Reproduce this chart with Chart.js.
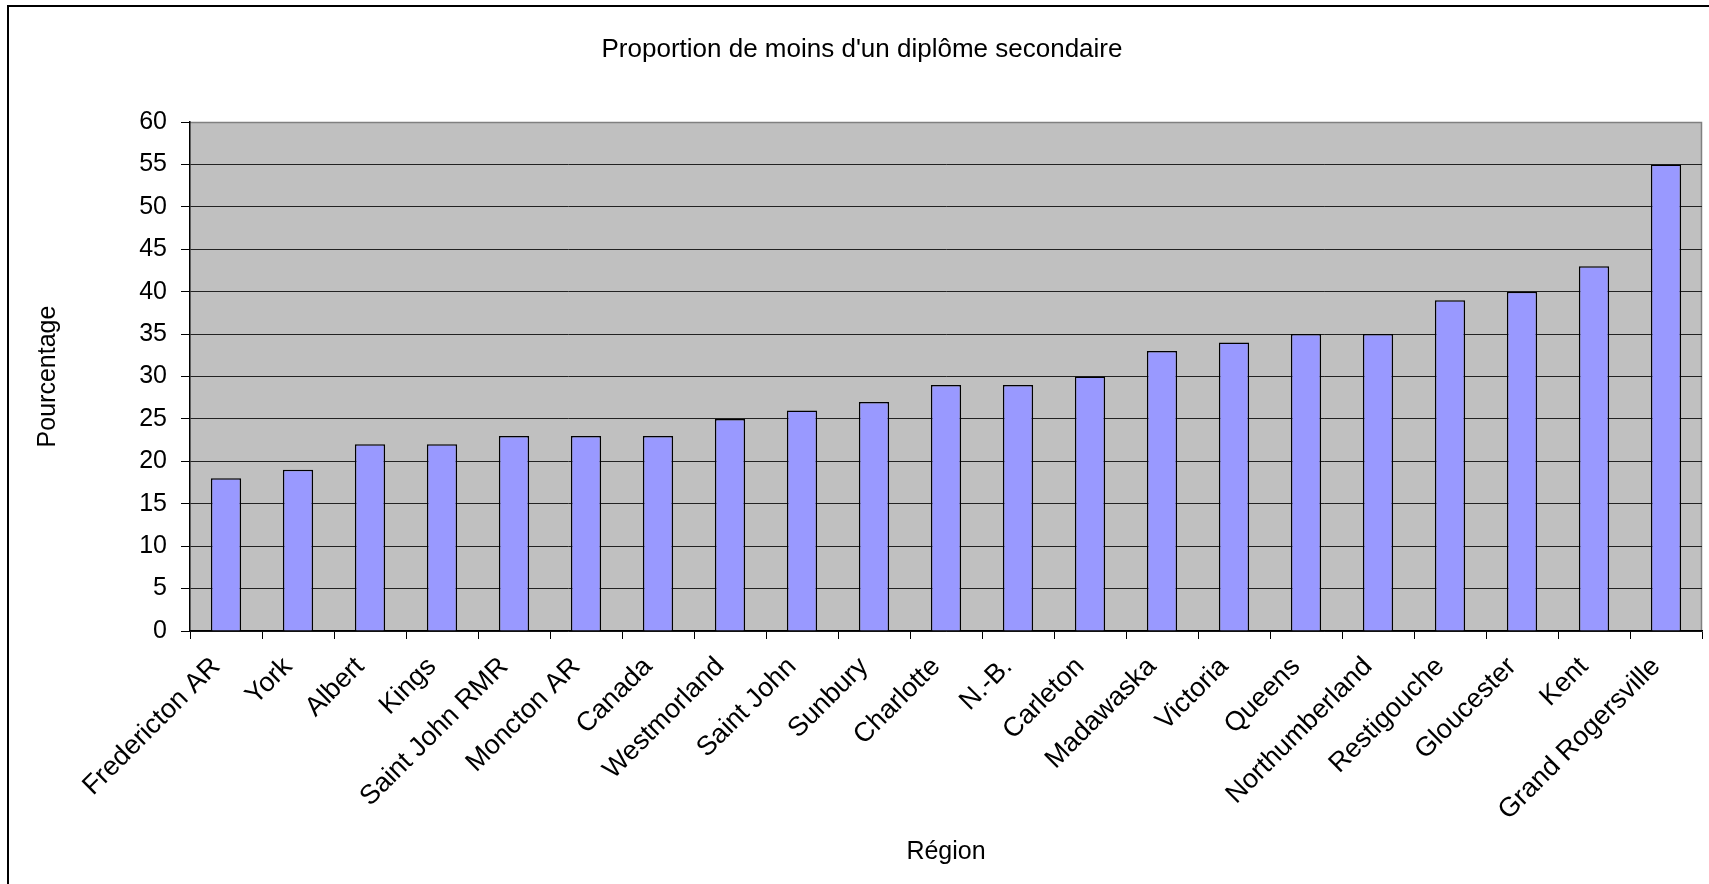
<!DOCTYPE html>
<html>
<head>
<meta charset="utf-8">
<script src="https://cdn.jsdelivr.net/npm/chart.js@4.4.0/dist/chart.umd.min.js"></script>
<style>
  html, body { margin: 0; padding: 0; background: #fff; overflow: hidden; }
  #wrap { position: relative; width: 1709px; height: 884px; }
  #frame { position: absolute; left: 7px; top: 5px; width: 2000px; height: 2000px; border: 2px solid #000; pointer-events: none; }
  canvas { position: absolute; left: 0; top: 0; }
</style>
</head>
<body>
<div id="wrap">
  <div id="frame"></div>
  <canvas id="chart" width="1709" height="884"></canvas>
</div>
<script>
const regions = ['Fredericton AR', 'York', 'Albert', 'Kings', 'Saint John RMR', 'Moncton AR', 'Canada',
  'Westmorland', 'Saint John', 'Sunbury', 'Charlotte', 'N.-B.', 'Carleton', 'Madawaska', 'Victoria',
  'Queens', 'Northumberland', 'Restigouche', 'Gloucester', 'Kent', 'Grand Rogersville'];
const values = [18, 19, 22, 22, 23, 23, 23, 25, 26, 27, 29, 29, 30, 33, 34, 35, 35, 39, 40, 43, 55];
const yTicks = [0, 5, 10, 15, 20, 25, 30, 35, 40, 45, 50, 55, 60];

const chartTitle = "Proportion de moins d'un diplôme secondaire";
const FONT = "'Liberation Sans', Arial, sans-serif";

// fond gris de la zone de tracé + titre
const plotBg = {
    id: 'plotBg',
    beforeDraw(chart) {
        const { ctx, chartArea: a } = chart;
        ctx.save();
        ctx.fillStyle = '#C0C0C0';
        ctx.fillRect(a.left, a.top, a.right - a.left, a.bottom - a.top);
        ctx.strokeStyle = '#808080';
        ctx.lineWidth = 1.5;
        ctx.beginPath();
        ctx.moveTo(a.left, a.top + 0.5);
        ctx.lineTo(a.right - 0.5, a.top + 0.5);
        ctx.lineTo(a.right - 0.5, a.bottom);
        ctx.stroke();
        ctx.restore();
    },
    afterDraw(chart) {
        const ctx = chart.ctx;
        ctx.save();
        ctx.font = '26px ' + FONT;
        ctx.fillStyle = '#000';
        ctx.textAlign = 'center';
        ctx.textBaseline = 'alphabetic';
        ctx.fillText(chartTitle, 862, 57);
        ctx.restore();
    }
};

const ctx = document.getElementById('chart').getContext('2d');
new Chart(ctx, {
    type: 'bar',
    data: {
        labels: regions,
        datasets: [{
            data: values,
            backgroundColor: '#9999FF',
            borderColor: '#000',
            borderWidth: 1.5,
            categoryPercentage: 1,
            barPercentage: 0.42
        }]
    },
    options: {
        responsive: false,
        animation: false,
        layout: { padding: { top: 122, right: 7, left: 0, bottom: 0 } },
        plugins: { legend: { display: false }, tooltip: { enabled: false }, title: { display: false } },
        scales: {
            x: {
                afterFit: s => { s.height = 253; },
                grid: { offset: true, drawOnChartArea: false, tickLength: 8, tickColor: '#000', lineWidth: 1 },
                border: { color: '#000', width: 1.5 },
                ticks: { color: '#000', font: { family: FONT, size: 27 }, minRotation: 45, maxRotation: 45, padding: 12, labelOffset: -10, autoSkip: false },
                title: { display: true, text: 'Région', color: '#000', font: { family: FONT, size: 25 }, padding: { top: 0, bottom: 17 } }
            },
            y: {
                min: 0, max: 60,
                afterFit: s => { s.width = 190; },
                afterBuildTicks: s => { s.ticks = yTicks.map(v => ({ value: v })); },
                grid: {
                    color: c => c.tick && c.tick.value === 60 ? 'rgba(0,0,0,0)' : '#222',
                    tickColor: '#000', tickLength: 9, lineWidth: 1
                },
                border: { color: '#000', width: 1.5 },
                ticks: { color: '#000', font: { family: FONT, size: 25 }, padding: 14 },
                title: { display: true, text: 'Pourcentage', color: '#000', font: { family: FONT, size: 25 }, padding: { top: 33, bottom: 0 } }
            }
        }
    },
    plugins: [plotBg]
});
</script>
</body>
</html>
